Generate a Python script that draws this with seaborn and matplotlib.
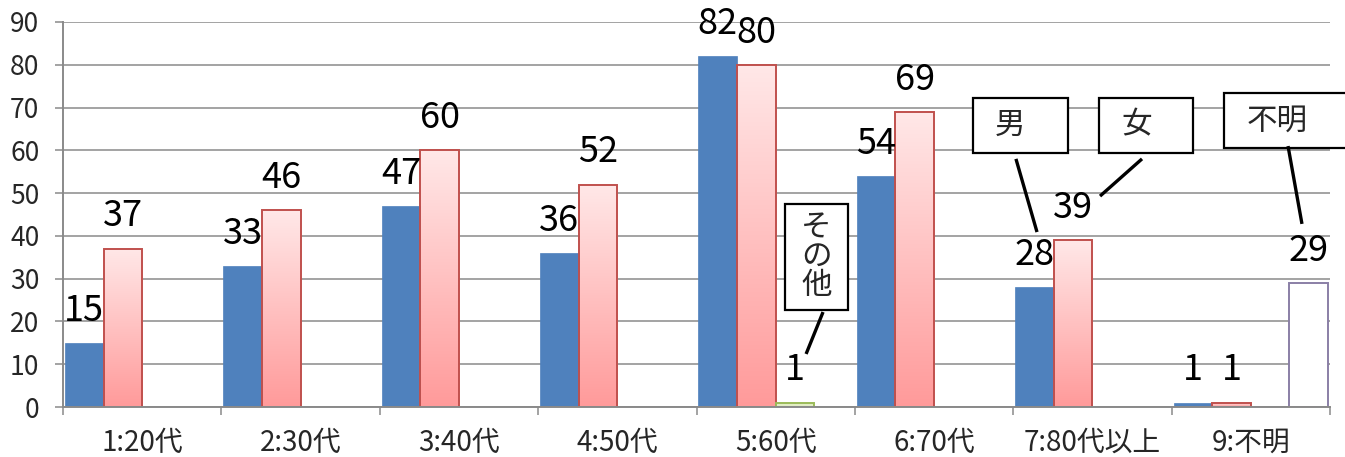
import numpy as np
import pandas as pd
import matplotlib
matplotlib.use("Agg")
import matplotlib.pyplot as plt
from matplotlib.patches import Rectangle
from matplotlib.colors import LinearSegmentedColormap
import seaborn as sns

# ---- data -------------------------------------------------------------
categories = ["1:20代", "2:30代", "3:40代", "4:50代", "5:60代", "6:70代", "7:80代以上", "9:不明"]
series = ["男", "女", "その他", "不明"]
male = [15, 33, 47, 36, 82, 54, 28, 1]
female = [37, 46, 60, 52, 80, 69, 39, 1]
other = [0, 0, 0, 0, 1, 0, 0, 0]
unknown = [0, 0, 0, 0, 0, 0, 0, 29]
y_ticks = list(range(0, 91, 10))

values = {"男": male, "女": female, "その他": other, "不明": unknown}

# ---- style ------------------------------------------------------------
sns.set_theme(style="white")
plt.rcParams["font.family"] = ["Noto Sans CJK JP", "DejaVu Sans"]

GRID = "#8a8a8a"
face = {"男": "#4f81bd", "女": "none", "その他": "#e2edc4", "不明": "#ffffff"}
edge = {"男": "#4f81bd", "女": "#c0504d", "その他": "#9bbb59", "不明": "#8a7fa6"}

df = pd.DataFrame({
    "区分": categories * len(series),
    "系列": np.repeat(series, len(categories)),
    "人数": male + female + other + unknown,
})

fig = plt.figure(figsize=(13.45, 4.57), dpi=100)
ax = fig.add_axes([63 / 1345, 50 / 457, (1330 - 63) / 1345, 385 / 457])

sns.barplot(data=df, x="区分", y="人数", hue="系列", order=categories,
            hue_order=series, palette=["#4f81bd", "#ff9f9f", "#e2edc4", "#ffffff"],
            width=0.975, gap=0, dodge=True, saturation=1, legend=False,
            errorbar=None, ax=ax, zorder=3)

pink = LinearSegmentedColormap.from_list("pink", ["#ffe8e8", "#ff9a9a"])
grad = np.linspace(0, 1, 256).reshape(-1, 1)

for name, cont in zip(series, ax.containers):
    for patch, v in zip(cont.patches, values[name]):
        if v == 0:
            patch.set_visible(False)
            continue
        patch.set_edgecolor(edge[name])
        patch.set_linewidth(1.4 if name != "男" else 0.5)
        if name == "女":
            patch.set_facecolor("none")
            x0, w = patch.get_x(), patch.get_width()
            im = ax.imshow(grad, cmap=pink, aspect="auto", origin="upper",
                           extent=[x0, x0 + w, 0, v], zorder=2.9,
                           interpolation="bilinear")
            im.set_clip_path(patch)
        else:
            patch.set_facecolor(face[name])
        # value label above the bar
        ax.annotate(f"{v}", xy=(patch.get_x() + patch.get_width() / 2, v),
                    xytext=(0, 16), textcoords="offset points",
                    ha="center", va="baseline", fontsize=26, color="black",
                    zorder=6, annotation_clip=False)

# ---- axes -------------------------------------------------------------
ax.set_xlim(-0.5, len(categories) - 0.5)
ax.set_ylim(0, 90)
ax.set_yticks(y_ticks)
ax.set_xticks(range(len(categories)))
ax.set_xticklabels(categories)
ax.set_xticks(np.arange(-0.5, len(categories), 1), minor=True)
ax.set_xlabel("")
ax.set_ylabel("")

ax.yaxis.grid(True, color=GRID, linewidth=1.1)
ax.set_axisbelow(True)
for s in ["top", "right"]:
    ax.spines[s].set_visible(False)
for s in ["left", "bottom"]:
    ax.spines[s].set_color(GRID)
    ax.spines[s].set_linewidth(1.4)
    ax.spines[s].set_zorder(4)

ax.tick_params(axis="y", which="major", left=True, length=6, color=GRID,
               width=1.1, pad=11, labelsize=19)
ax.tick_params(axis="x", which="major", bottom=True, length=0, pad=15,
               labelsize=20)
ax.tick_params(axis="x", which="minor", bottom=True, length=6, color=GRID,
               width=1.1)

# ---- callouts naming each series ---------------------------------------
def box(x, y, w, h):
    ax.add_patch(Rectangle((x, y), w, h, facecolor="white", edgecolor="black",
                           linewidth=1.6, clip_on=False, zorder=7))

def leader(xs, ys):
    ax.plot(xs, ys, color="black", linewidth=2.4, clip_on=False, zorder=7,
            solid_capstyle="butt")

box(5.246, 59.4, 0.600, 12.8)
ax.text(5.246 + 0.135, 65.9, "男", fontsize=22, ha="left", va="center", zorder=8)
leader([5.517, 5.650], [58.0, 40.9])

box(6.041, 59.4, 0.594, 12.8)
ax.text(6.041 + 0.14, 65.9, "女", fontsize=22, ha="left", va="center", zorder=8)
leader([6.313, 6.048], [58.0, 49.3])

box(6.831, 60.5, 0.80, 12.9)
ax.text(6.831 + 0.14, 66.8, "不明", fontsize=22, ha="left", va="center", zorder=8)
leader([7.235, 7.323], [61.0, 42.8])

box(4.059, 22.7, 0.398, 24.8)
ax.text(4.258, 35.1, "そ\nの\n他", fontsize=22, ha="center", va="center",
        linespacing=0.92, zorder=8)
leader([4.299, 4.192], [22.2, 12.4])

fig.savefig("out.png", dpi=100, facecolor="white")
